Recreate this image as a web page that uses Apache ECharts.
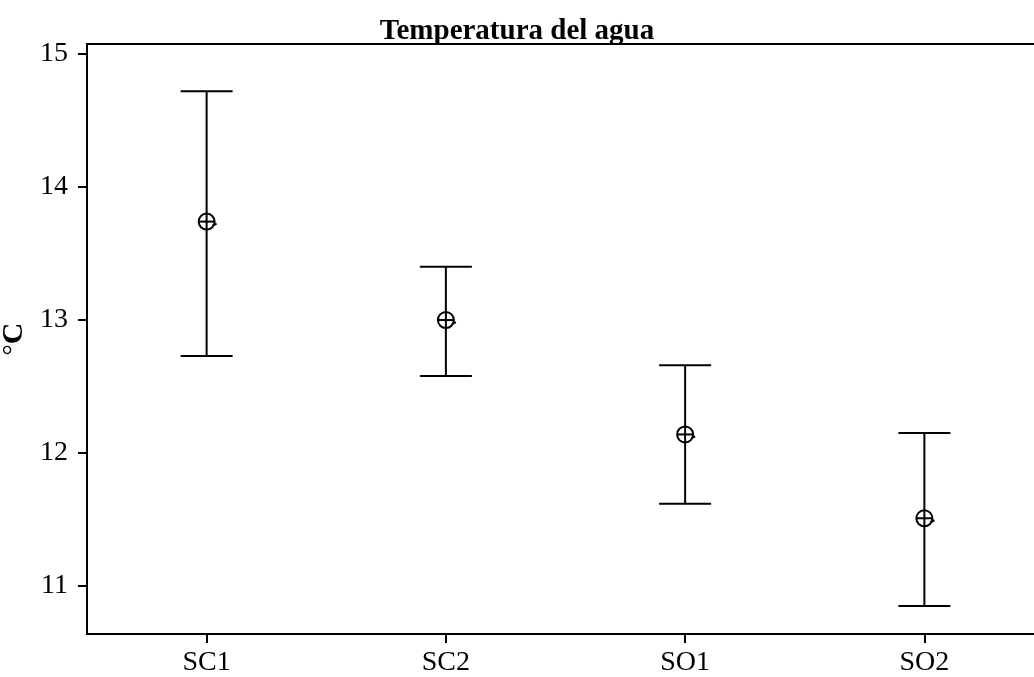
<!DOCTYPE html>
<html>
<head>
<meta charset="utf-8">
<script src="https://cdn.jsdelivr.net/npm/echarts@6/dist/echarts.min.js"></script>
<style>
html,body{margin:0;padding:0;background:#fff;}
#main{width:1034px;height:677px;}
</style>
</head>
<body>
<div id="main"></div>
<script>
// sitios y valores
var sitios = ['SC1', 'SC2', 'SO1', 'SO2'];
var media = [13.74, 13.00, 12.14, 11.51];
var limSup = [14.72, 13.40, 12.66, 12.15];
var limInf = [12.73, 12.58, 11.62, 10.85];
var marcasY = [11, 12, 13, 14, 15];

var datos = [];
for (var i = 0; i < sitios.length; i++) {
    datos.push([i, media[i], limInf[i], limSup[i]]);
}

var chart = echarts.init(document.getElementById('main'));
var fuente = '"Liberation Serif", "Times New Roman", serif';

function dibujaBarra(params, api) {
    var x = api.value(0);
    var pMed = api.coord([x, api.value(1)]);
    var pInf = api.coord([x, api.value(2)]);
    var pSup = api.coord([x, api.value(3)]);
    var cap = 26;
    var r = 8;
    var estilo = {stroke: '#000', lineWidth: 2, fill: null};
    return {
        type: 'group',
        children: [
            {type: 'line', shape: {x1: pSup[0], y1: pSup[1], x2: pInf[0], y2: pInf[1]}, style: estilo},
            {type: 'line', shape: {x1: pSup[0] - cap, y1: pSup[1], x2: pSup[0] + cap, y2: pSup[1]}, style: estilo},
            {type: 'line', shape: {x1: pInf[0] - cap, y1: pInf[1], x2: pInf[0] + cap, y2: pInf[1]}, style: estilo},
            {type: 'circle', shape: {cx: pMed[0], cy: pMed[1], r: r}, style: {stroke: '#000', lineWidth: 2, fill: 'rgba(0,0,0,0)'}},
            {type: 'line', shape: {x1: pMed[0] - r, y1: pMed[1], x2: pMed[0] + r, y2: pMed[1]}, style: estilo},
            {type: 'line', shape: {x1: pMed[0] + r - 2, y1: pMed[1] + 4, x2: pMed[0] + r + 2, y2: pMed[1] + 2}, style: estilo}
        ]
    };
}

var option = {
    backgroundColor: '#fff',
    animation: false,
    title: {
        text: 'Temperatura del agua',
        left: 'center',
        top: 12,
        textStyle: {fontFamily: fuente, fontWeight: 'bold', fontSize: 29, color: '#000'}
    },
    grid: {
        left: 87,
        right: -10,
        top: 44,
        bottom: 43,
        containLabel: false,
        outerBoundsMode: 'none',
        show: true,
        borderColor: '#000',
        borderWidth: 2,
        backgroundColor: 'transparent'
    },
    xAxis: {
        type: 'category',
        data: sitios,
        boundaryGap: true,
        axisLine: {show: false},
        axisTick: {show: true, alignWithLabel: true, length: 9, lineStyle: {color: '#000', width: 2}},
        axisLabel: {fontFamily: fuente, fontSize: 28, color: '#000', margin: 15},
        splitLine: {show: false}
    },
    yAxis: {
        type: 'value',
        min: 10.64,
        max: 15.075,
        axisLine: {show: false},
        axisTick: {show: true, length: 9, lineStyle: {color: '#000', width: 2}, customValues: marcasY},
        axisLabel: {
            fontFamily: fuente, fontSize: 28, color: '#000', margin: 19,
            customValues: marcasY
        },
        splitLine: {show: false},
        name: '{a|°}{b|C}',
        nameLocation: 'middle',
        nameGap: 55,
        nameRotate: 90,
        nameTextStyle: {
            rich: {
                a: {fontFamily: fuente, fontSize: 28, color: '#000'},
                b: {fontFamily: fuente, fontSize: 30, fontWeight: 'bold', color: '#000'}
            }
        }
    },
    series: [{
        type: 'custom',
        renderItem: dibujaBarra,
        encode: {x: 0, y: [1, 2, 3]},
        data: datos,
        clip: false
    }]
};
chart.setOption(option);
</script>
</body>
</html>
